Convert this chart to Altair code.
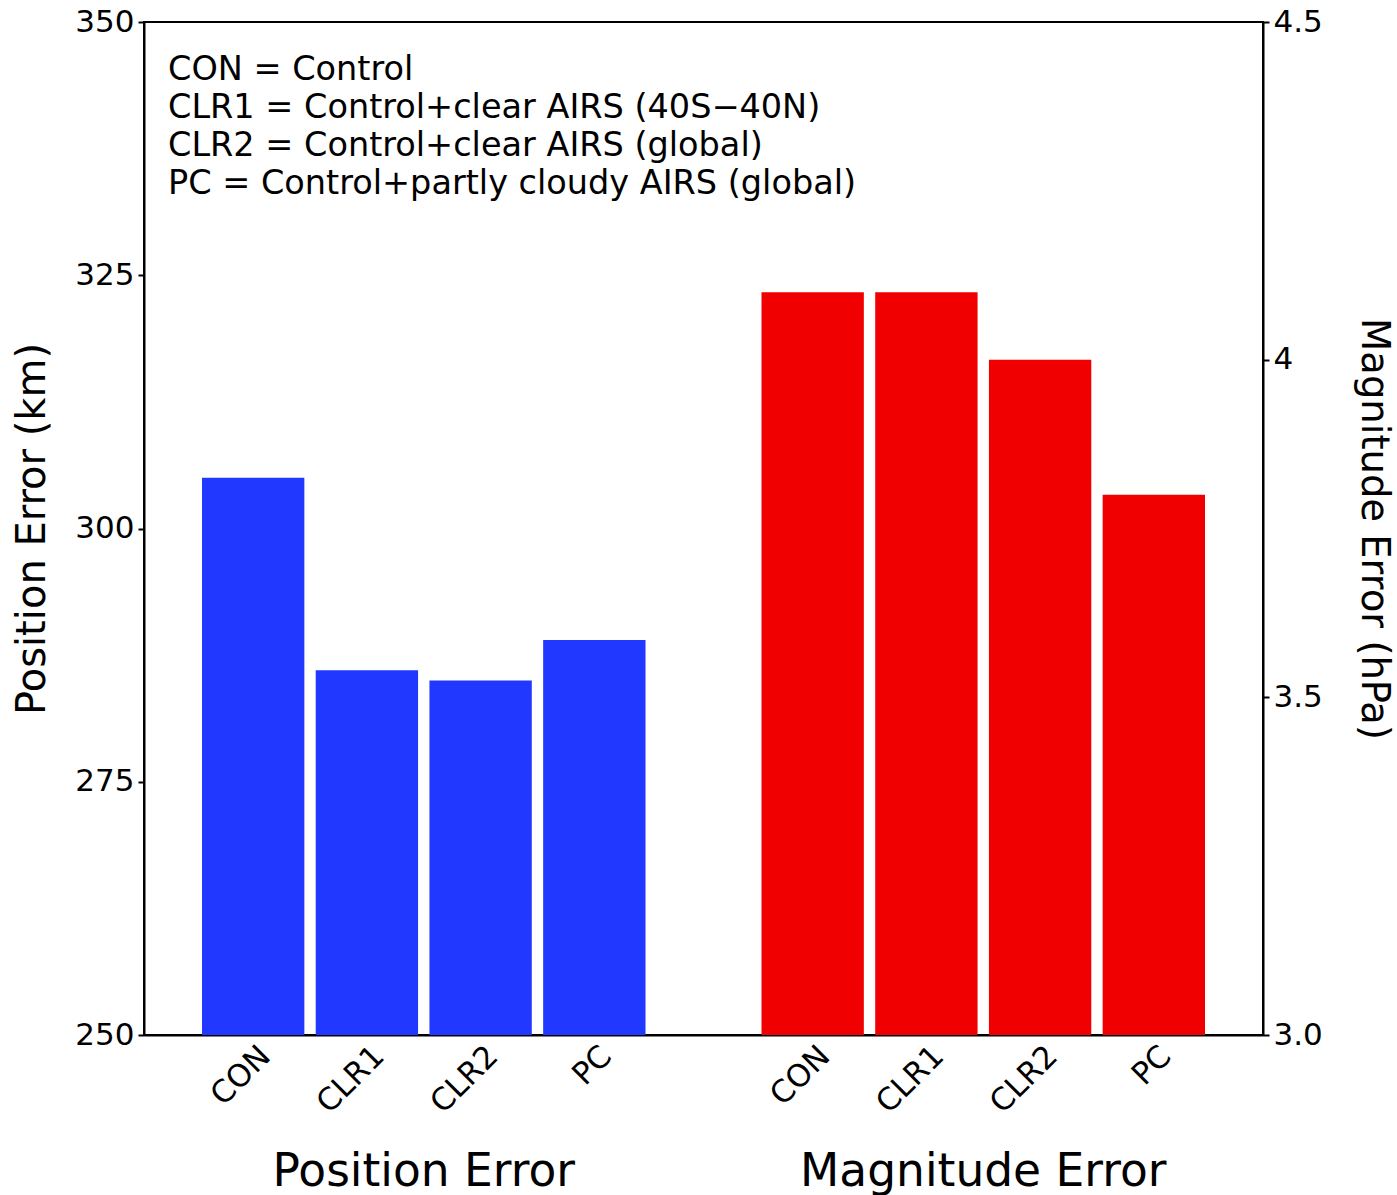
import altair as alt
import pandas as pd

groups = ["Position Error", "Magnitude Error"]
categories = ["CON", "CLR1", "CLR2", "PC"]
position_error = [305, 286, 285, 289]
magnitude_error = [4.10, 4.10, 4.00, 3.80]
legend_lines = [
    "CON = Control",
    "CLR1 = Control+clear AIRS (40S\u221240N)",
    "CLR2 = Control+clear AIRS (global)",
    "PC = Control+partly cloudy AIRS (global)",
]
left_ticks = [250, 275, 300, 325, 350]
right_ticks = [3.0, 3.5, 4.0, 4.5]

FONT = "DejaVu Sans"
W, H = 1119, 1013

pos_df = pd.DataFrame({"group": groups[0], "cat": categories, "value": position_error})
mag_df = pd.DataFrame({"group": groups[1], "cat": categories, "value": magnitude_error})
lab_df = pd.concat([pos_df, mag_df], ignore_index=True)
leg_df = pd.DataFrame({"text": ["\n".join(legend_lines)]})

xenc = alt.X("group:N", scale=alt.Scale(domain=groups, paddingInner=0, paddingOuter=0),
             axis=alt.Axis(title=None, ticks=False, labelAngle=0, labelFontSize=45.5,
                           labelPadding=114, labelBaseline="top", labelFont=FONT,
                           labelLimit=0))
xoff = alt.XOffset("cat:N", scale=alt.Scale(domain=categories, paddingInner=0.1, paddingOuter=0.51))

blue = alt.Chart(pos_df).mark_bar(color="#2038FF").encode(
    x=xenc, xOffset=xoff,
    y=alt.Y("value:Q", scale=alt.Scale(domain=[250, 350], zero=False, nice=False),
            axis=alt.Axis(values=left_ticks, title="Position Error (km)", orient="left",
                          titleFontSize=40, labelFontSize=31, labelPadding=4,
                          titleX=-112, titleY=H / 2, titleAngle=270, titleAlign="center",
                          titleBaseline="middle", titleFontWeight="normal", titleFont=FONT)),
    y2=alt.datum(250),
)

red = alt.Chart(mag_df).mark_bar(color="#F00000").encode(
    x=xenc, xOffset=xoff,
    y=alt.Y("value:Q", scale=alt.Scale(domain=[3.0, 4.5], zero=False, nice=False),
            axis=alt.Axis(values=right_ticks, title="Magnitude Error (hPa)", orient="right",
                          labelExpr="datum.value == 3 ? '3.0' : datum.value == 4 ? '4' : format(datum.value, '.1f')",
                          titleFontSize=38.5, labelFontSize=31, labelPadding=4,
                          titleX=110, titleY=H / 2, titleAngle=90, titleAlign="center",
                          titleBaseline="middle", titleFontWeight="normal", titleFont=FONT)),
    y2=alt.datum(3.0),
)

labels = alt.Chart(lab_df).mark_text(angle=315, align="right", baseline="middle",
                                     fontSize=31, font=FONT, color="black", dx=12, dy=6).encode(
    x=xenc, xOffset=xoff, y=alt.value(H + 21), text="cat:N"
)

legend = alt.Chart(leg_df).mark_text(align="left", baseline="middle", fontSize=33.5, font=FONT,
                                     color="black", lineBreak="\n", lineHeight=38).encode(
    x=alt.value(24), y=alt.value(48), text="text:N"
)

chart = alt.layer(blue, red, labels, legend).resolve_scale(y="independent").properties(
    width=W, height=H,
    autosize=alt.AutoSizeParams(type="none"),
    padding={"left": 144, "top": 22, "right": 134, "bottom": 160},
    background="white",
).configure_view(stroke="black", strokeWidth=2).configure_axis(
    domainColor="black", domainWidth=2, tickColor="black", tickWidth=2, tickSize=6,
    labelColor="black", titleColor="black", labelFont=FONT, grid=False,
)

chart.save("out.html", embed_options={"renderer": "svg", "actions": False})
